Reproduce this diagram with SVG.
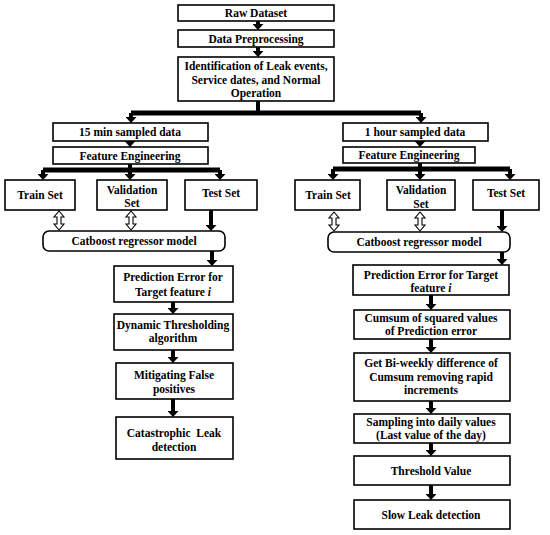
<svg xmlns="http://www.w3.org/2000/svg" width="550" height="535" viewBox="0 0 550 535">
<style>
.box{fill:#fff;stroke:#000;stroke-width:1.6}
text{font-family:"Liberation Serif","Times New Roman",serif;font-weight:bold;font-size:11.5px;fill:#000;text-anchor:middle;white-space:pre}
.c{fill:none;stroke:#000;stroke-width:4}
.a{fill:none;stroke:#000;stroke-width:4;marker-end:url(#h)}
.bar{fill:none;stroke:#000;stroke-width:5}
.hol{fill:#fff;stroke:#000;stroke-width:1.1}
</style>
<defs>
<marker id="h" viewBox="0 0 6 11" markerWidth="6" markerHeight="11" refX="1" refY="5.5" orient="auto" markerUnits="userSpaceOnUse">
<path d="M0,0 L6,5.5 L0,11 Z" fill="#000"/>
</marker>
<path id="dbl" d="M0,0 L5,6 L2,6 L2,13 L5,13 L0,19 L-5,13 L-2,13 L-2,6 L-5,6 Z"/>
</defs>

<g id="connectors">
<path class="a" d="M258,21 V25"/>
<path class="a" d="M258,47 V52"/>
<path class="c" d="M258,101 V111"/>
<path class="bar" d="M131,113 H421"/>
<path class="a" d="M131,113 V118"/>
<path class="a" d="M421,113 V118"/>
<path class="a" d="M130,141 V142"/>
<path class="c" d="M130,164 V170"/>
<path class="bar" d="M43,170 H220"/>
<path class="a" d="M43,170 V175"/>
<path class="a" d="M130,170 V175"/>
<path class="a" d="M220,170 V175"/>
<use href="#dbl" class="hol" x="59" y="211"/>
<use href="#dbl" class="hol" x="131" y="211"/>
<path class="a" d="M211,210 V226"/>
<path class="a" d="M212,251 V261"/>
<path class="a" d="M173,302 V309"/>
<path class="a" d="M173,350 V358"/>
<path class="a" d="M173,399 V412"/>
<path class="a" d="M420,141 V142"/>
<path class="c" d="M420,163 V169"/>
<path class="bar" d="M333,169 H510"/>
<path class="a" d="M333,169 V175"/>
<path class="a" d="M420,169 V175"/>
<path class="a" d="M510,169 V175"/>
<use href="#dbl" class="hol" x="334" y="212"/>
<use href="#dbl" class="hol" x="420" y="212"/>
<path class="a" d="M502,210 V227"/>
<path class="a" d="M502,252 V260"/>
<path class="a" d="M431,295 V305"/>
<path class="a" d="M431,339 V348"/>
<path class="a" d="M431,401 V409"/>
<path class="a" d="M431,443 V451"/>
<path class="a" d="M431,485 V495"/>
</g>

<g id="raw"><rect class="box" x="178" y="5" width="156" height="16"/><text x="256" y="17">Raw Dataset</text></g>
<g id="prep"><rect class="box" x="178" y="30" width="156" height="17"/><text x="256" y="42.5">Data Preprocessing</text></g>
<g id="ident"><rect class="box" x="178" y="57" width="156" height="44"/><text x="256" y="70">Identification of Leak events,</text><text x="256" y="84">Service dates, and Normal</text><text x="256" y="97">Operation</text></g>

<g id="min15"><rect class="box" x="53" y="123" width="155" height="18"/><text x="130" y="136">15 min sampled data</text></g>
<g id="fe1"><rect class="box" x="53" y="147" width="155" height="17"/><text x="130" y="159.5">Feature Engineering</text></g>
<g id="train1"><rect class="box" x="5" y="180" width="70" height="30"/><text x="40" y="199">Train Set</text></g>
<g id="val1"><rect class="box" x="97" y="180" width="70" height="30"/><text x="132" y="194">Validation</text><text x="132" y="207">Set</text></g>
<g id="test1"><rect class="box" x="185" y="180" width="72" height="30"/><text x="221" y="197">Test Set</text></g>
<g id="cat1"><rect class="box" x="43" y="231" width="182" height="20" rx="6"/><text x="134" y="245">Catboost regressor model</text></g>
<g id="pred1"><rect class="box" x="114" y="266" width="119" height="36"/><text x="173" y="281">Prediction Error for</text><text x="173" y="296">Target feature <tspan font-style="italic">i</tspan></text></g>
<g id="dyn"><rect class="box" x="114" y="314" width="119" height="36"/><text x="173" y="329">Dynamic Thresholding</text><text x="173" y="342">algorithm</text></g>
<g id="mit"><rect class="box" x="116" y="363" width="117" height="36"/><text x="174" y="379">Mitigating False</text><text x="174" y="393">positives</text></g>
<g id="cata"><rect class="box" x="116" y="417" width="117" height="42"/><text x="174" y="437">Catastrophic  Leak</text><text x="174" y="451">detection</text></g>

<g id="hour1"><rect class="box" x="343" y="123" width="145" height="18"/><text x="415" y="136">1 hour sampled data</text></g>
<g id="fe2"><rect class="box" x="343" y="147" width="132" height="16"/><text x="409" y="159">Feature Engineering</text></g>
<g id="train2"><rect class="box" x="295" y="180" width="65" height="30"/><text x="328" y="199">Train Set</text></g>
<g id="val2"><rect class="box" x="387" y="180" width="68" height="30"/><text x="421" y="194">Validation</text><text x="421" y="208">Set</text></g>
<g id="test2"><rect class="box" x="473" y="180" width="66" height="30"/><text x="506" y="197">Test Set</text></g>
<g id="cat2"><rect class="box" x="328" y="232" width="182" height="20" rx="6"/><text x="419" y="246">Catboost regressor model</text></g>
<g id="pred2"><rect class="box" x="353" y="265" width="156" height="30"/><text x="431" y="279">Prediction Error for Target</text><text x="431" y="292">feature <tspan font-style="italic">i</tspan></text></g>
<g id="cumsum"><rect class="box" x="354" y="310" width="156" height="29"/><text x="431" y="322">Cumsum of squared values</text><text x="431" y="335">of Prediction error</text></g>
<g id="biweek"><rect class="box" x="354" y="353" width="156" height="48"/><text x="431" y="367">Get Bi-weekly difference of</text><text x="431" y="381">Cumsum removing rapid</text><text x="431" y="394">increments</text></g>
<g id="sampling"><rect class="box" x="354" y="414" width="156" height="29"/><text x="431" y="426">Sampling into daily values</text><text x="431" y="439">(Last value of the day)</text></g>
<g id="thresh"><rect class="box" x="354" y="456" width="156" height="29"/><text x="431" y="475">Threshold Value</text></g>
<g id="slow"><rect class="box" x="354" y="500" width="156" height="29"/><text x="431" y="519">Slow Leak detection</text></g>
</svg>
